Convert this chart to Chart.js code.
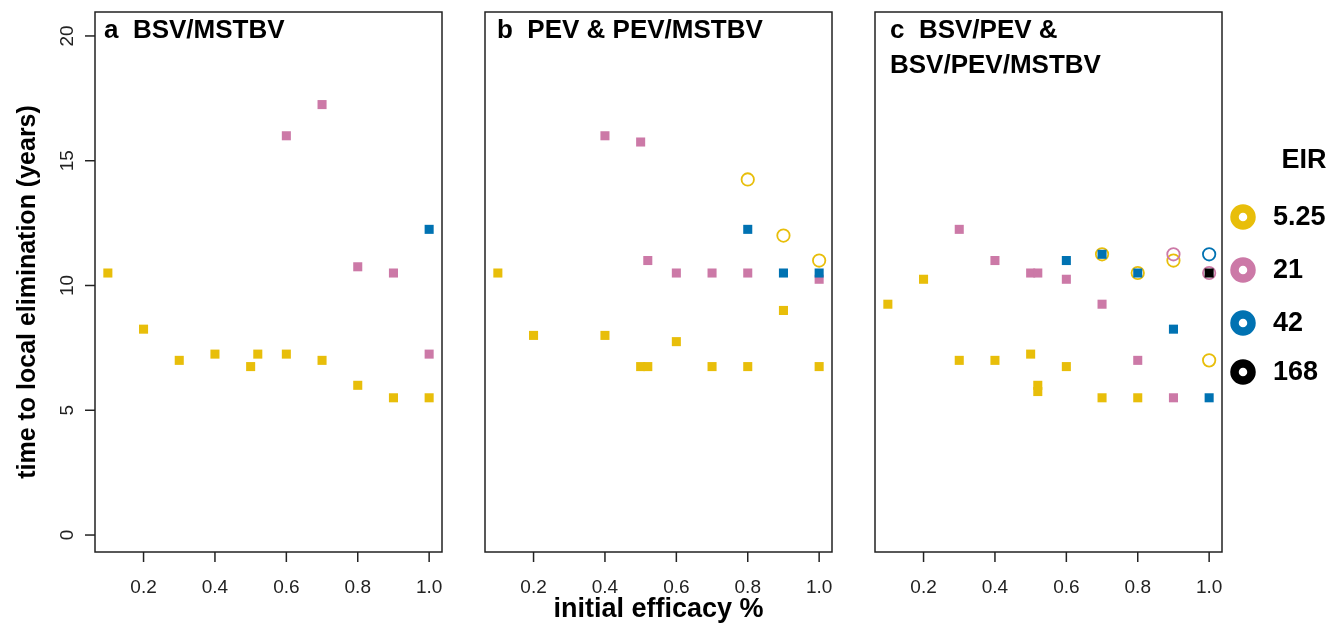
<!DOCTYPE html>
<html>
<head>
<meta charset="utf-8">
<script src="https://cdn.jsdelivr.net/npm/chart.js@4.4.1/dist/chart.umd.min.js"></script>
<style>
    html, body { margin: 0; padding: 0; background: #fff; }
    #wrap { position: relative; width: 1344px; height: 623px; overflow: hidden; }
    canvas { position: absolute; top: 0; }
</style>
</head>
<body>
<div id="wrap">
    <canvas id="panelA" width="470" height="623" style="left:0px"></canvas>
    <canvas id="panelB" width="390" height="623" style="left:470px"></canvas>
    <canvas id="panelC" width="484" height="623" style="left:860px"></canvas>
</div>
<script>
// axis ticks
const xTicks = [0.2, 0.4, 0.6, 0.8, 1.0];
const yTicks = [0, 5, 10, 15, 20];

// EIR levels (legend)
const eirLevels = ['5.25', '21', '42', '168'];
const eirColors = ['#E8BE0A', '#CC79A7', '#0072B2', '#000000'];

// panel a: BSV/MSTBV
const aSqX5 = [0.1, 0.2, 0.3, 0.4, 0.5, 0.52, 0.6, 0.7, 0.8, 0.9, 1.0];
const aSqY5 = [10.5, 8.25, 7, 7.25, 6.75, 7.25, 7.25, 7, 6, 5.5, 5.5];
const aSqX21 = [0.6, 0.7, 0.8, 0.9, 1.0];
const aSqY21 = [16, 17.25, 10.75, 10.5, 7.25];
const aSqX42 = [1.0];
const aSqY42 = [12.25];

// panel b: PEV & PEV/MSTBV
const bSqX5 = [0.1, 0.2, 0.4, 0.5, 0.52, 0.6, 0.7, 0.8, 0.9, 1.0];
const bSqY5 = [10.5, 8, 8, 6.75, 6.75, 7.75, 6.75, 6.75, 9, 6.75];
const bCiX5 = [0.8, 0.9, 1.0];
const bCiY5 = [14.25, 12, 11];
const bSqX21 = [0.4, 0.5, 0.52, 0.6, 0.7, 0.8, 1.0];
const bSqY21 = [16, 15.75, 11, 10.5, 10.5, 10.5, 10.25];
const bSqX42 = [0.8, 0.9, 1.0];
const bSqY42 = [12.25, 10.5, 10.5];

// panel c: BSV/PEV & BSV/PEV/MSTBV
const cSqX5 = [0.1, 0.2, 0.3, 0.4, 0.5, 0.52, 0.52, 0.6, 0.7, 0.8];
const cSqY5 = [9.25, 10.25, 7, 7, 7.25, 6, 5.75, 6.75, 5.5, 5.5];
const cCiX5 = [0.7, 0.8, 0.9, 1.0];
const cCiY5 = [11.25, 10.5, 11, 7];
const cSqX21 = [0.3, 0.4, 0.5, 0.52, 0.6, 0.7, 0.8, 0.9];
const cSqY21 = [12.25, 11, 10.5, 10.5, 10.25, 9.25, 7, 5.5];
const cCiX21 = [0.9, 1.0];
const cCiY21 = [11.25, 10.5];
const cSqX42 = [0.6, 0.7, 0.8, 0.9, 1.0];
const cSqY42 = [11, 11.25, 10.5, 8.25, 5.5];
const cCiX42 = [1.0];
const cCiY42 = [11.25];
const cSqX168 = [1.0];
const cSqY168 = [10.5];

const FONT = '"Liberation Sans", Arial, Helvetica, sans-serif';
const INK = '#222';

function pts(xs, ys) {
    return xs.map((v, i) => ({x: v, y: ys[i]}));
}

function squares(xs, ys, color, order) {
    return {
        data: pts(xs, ys), order,
        pointStyle: 'rect', pointRadius: 6.4, pointBorderWidth: 0,
        pointBackgroundColor: color
    };
}

function rings(xs, ys, color, order) {
    return {
        data: pts(xs, ys), order,
        pointStyle: 'circle', pointRadius: 6.2, pointBorderWidth: 1.8,
        pointBorderColor: color, pointBackgroundColor: 'rgba(0,0,0,0)'
    };
}

// box, R-style ticks and the panel heading
function framePlugin(opts) {
    return {
        id: 'frame',
        afterDatasetsDraw(chart) {
            const {ctx, chartArea: a, scales: {x, y}} = chart;
            ctx.save();
            ctx.strokeStyle = INK;
            ctx.fillStyle = INK;
            ctx.lineWidth = 1.5;
            ctx.strokeRect(a.left, a.top, a.right - a.left, a.bottom - a.top);

            ctx.font = '19px ' + FONT;
            ctx.textAlign = 'center';
            ctx.textBaseline = 'middle';
            xTicks.forEach(v => {
                const px = x.getPixelForValue(v);
                ctx.beginPath();
                ctx.moveTo(px, a.bottom);
                ctx.lineTo(px, a.bottom + 10);
                ctx.stroke();
                ctx.fillText(v.toFixed(1), px, a.bottom + 36);
            });

            if (opts.yAxis) {
                yTicks.forEach(v => {
                    const py = y.getPixelForValue(v);
                    ctx.beginPath();
                    ctx.moveTo(a.left - 10, py);
                    ctx.lineTo(a.left, py);
                    ctx.stroke();
                    ctx.save();
                    ctx.translate(a.left - 27, py);
                    ctx.rotate(-Math.PI / 2);
                    ctx.fillText(String(v), 0, 0);
                    ctx.restore();
                });
                ctx.save();
                ctx.font = 'bold 25px ' + FONT;
                ctx.fillStyle = '#000';
                ctx.translate(28, 292);
                ctx.rotate(-Math.PI / 2);
                ctx.fillText('time to local elimination (years)', 0, 0);
                ctx.restore();
            }

            ctx.font = 'bold 26px ' + FONT;
            ctx.fillStyle = '#000';
            ctx.textAlign = 'left';
            ctx.textBaseline = 'alphabetic';
            opts.title.forEach((line, i) => {
                ctx.fillText(line, a.left + opts.titleDx, a.top + 26 + i * 35);
            });

            if (opts.xTitle) {
                ctx.font = 'bold 27px ' + FONT;
                ctx.textAlign = 'center';
                ctx.fillText(opts.xTitle, (a.left + a.right) / 2, 617);
            }

            if (opts.legend) {
                ctx.font = 'bold 27px ' + FONT;
                ctx.textAlign = 'center';
                ctx.textBaseline = 'middle';
                ctx.fillText('EIR', a.right + 82, 161);
                ctx.textAlign = 'left';
                const rowY = [217, 270, 323, 372];
                eirLevels.forEach((lab, i) => {
                    ctx.beginPath();
                    ctx.strokeStyle = eirColors[i];
                    ctx.lineWidth = 8.5;
                    ctx.arc(a.right + 21, rowY[i], 8.5, 0, Math.PI * 2);
                    ctx.stroke();
                    ctx.fillStyle = '#000';
                    ctx.fillText(lab, a.right + 51, rowY[i] + 1);
                });
            }
            ctx.restore();
        }
    };
}

function makePanel(id, canvasLeft, canvasWidth, boxLeft, boxRight, datasets, opts) {
    new Chart(document.getElementById(id).getContext('2d'), {
        type: 'scatter',
        data: {datasets},
        options: {
            responsive: false,
            animation: false,
            events: [],
            layout: {
                padding: {
                    left: boxLeft - canvasLeft,
                    right: canvasLeft + canvasWidth - boxRight,
                    top: 12,
                    bottom: 71
                }
            },
            plugins: {legend: {display: false}, tooltip: {enabled: false}},
            scales: {
                x: {type: 'linear', display: false, min: 0.064, max: 1.036},
                y: {type: 'linear', display: false, min: -0.68, max: 20.96}
            }
        },
        plugins: [framePlugin(opts)]
    });
}

const [Y, P, B, K] = eirColors;

makePanel('panelA', 0, 470, 95, 442, [
    squares(aSqX5, aSqY5, Y, 7),
    squares(aSqX21, aSqY21, P, 5),
    squares(aSqX42, aSqY42, B, 3)
], {yAxis: true, title: ['a  BSV/MSTBV'], titleDx: 9});

makePanel('panelB', 470, 390, 485, 832, [
    squares(bSqX5, bSqY5, Y, 7),
    rings(bCiX5, bCiY5, Y, 6),
    squares(bSqX21, bSqY21, P, 5),
    squares(bSqX42, bSqY42, B, 3)
], {title: ['b  PEV & PEV/MSTBV'], titleDx: 12, xTitle: 'initial efficacy %'});

makePanel('panelC', 860, 484, 875, 1222, [
    squares(cSqX5, cSqY5, Y, 7),
    rings(cCiX5, cCiY5, Y, 6),
    squares(cSqX21, cSqY21, P, 5),
    rings(cCiX21, cCiY21, P, 4),
    squares(cSqX42, cSqY42, B, 3),
    rings(cCiX42, cCiY42, B, 2),
    squares(cSqX168, cSqY168, K, 1)
], {title: ['c  BSV/PEV &', 'BSV/PEV/MSTBV'], titleDx: 15, legend: true});
</script>
</body>
</html>
